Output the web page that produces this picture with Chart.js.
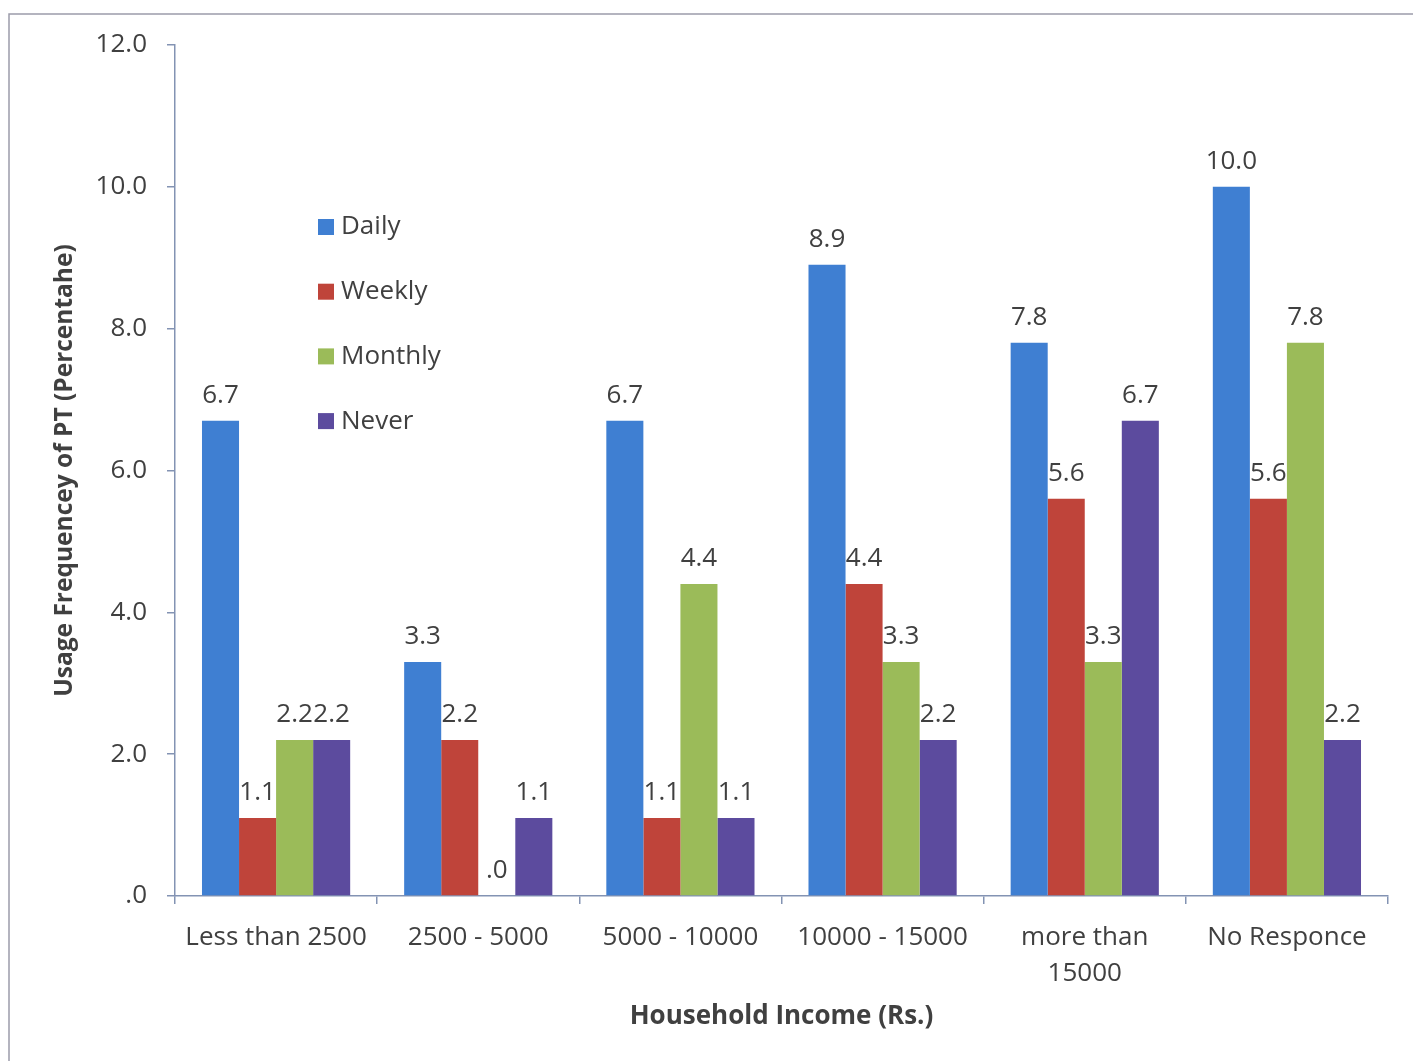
<!DOCTYPE html>
<html>
<head>
<meta charset="utf-8">
<title>Usage Frequency of PT by Household Income</title>
<script src="https://cdn.jsdelivr.net/npm/chart.js@4/dist/chart.umd.min.js"></script>
<style>
  html, body { margin: 0; padding: 0; background: #ffffff; }
  canvas { display: block; }
</style>
</head>
<body>
<canvas id="chart" width="1413" height="1061"></canvas>
<script>
// Household income groups (x axis)
const incomeGroups = [
  'Less than 2500',
  '2500 - 5000',
  '5000 - 10000',
  '10000 - 15000',
  ['more than', '15000'],
  'No Responce'
];

// Usage frequency shares (%) for each income group
const daily   = [6.7, 3.3, 6.7, 8.9, 7.8, 10.0];
const weekly  = [1.1, 2.2, 1.1, 4.4, 5.6, 5.6];
const monthly = [2.2, 0.0, 4.4, 3.3, 3.3, 7.8];
const never   = [2.2, 1.1, 1.1, 2.2, 6.7, 2.2];

const seriesNames  = ['Daily', 'Weekly', 'Monthly', 'Never'];
const seriesColors = ['#3f7fd2', '#bf443a', '#9bbb59', '#5c4b9e'];

// Y axis tick values
const yTicks = [0, 2, 4, 6, 8, 10, 12];

const FONT = '"Open Sans", "DejaVu Sans", sans-serif';
const TEXT = '#404040';
const AXIS = '#8393b3';

function fmt(v) {
  // Values below 1 are written without the leading zero (".0")
  const s = Number(v).toFixed(1);
  return s.startsWith('0') ? s.slice(1) : s;
}

// Thin frame around the whole figure
const framePlugin = {
  id: 'frame',
  beforeDraw(chart) {
    const ctx = chart.ctx;
    ctx.save();
    ctx.strokeStyle = '#9c9cab';
    ctx.lineWidth = 1.5;
    ctx.beginPath();
    ctx.moveTo(9, chart.height);
    ctx.lineTo(9, 14);
    ctx.lineTo(chart.width, 14);
    ctx.stroke();
    ctx.restore();
  }
};

// Value labels above every bar
const valueLabelPlugin = {
  id: 'valueLabels',
  afterDatasetsDraw(chart) {
    const ctx = chart.ctx;
    ctx.save();
    ctx.font = '26px ' + FONT;
    ctx.fillStyle = TEXT;
    ctx.textAlign = 'center';
    ctx.textBaseline = 'middle';
    chart.data.datasets.forEach((ds, di) => {
      const meta = chart.getDatasetMeta(di);
      meta.data.forEach((bar, i) => {
        ctx.fillText(fmt(ds.data[i]), bar.x, bar.y - 25);
      });
    });
    ctx.restore();
  }
};

// Legend placed inside the plot area, stacked vertically
const insideLegendPlugin = {
  id: 'insideLegend',
  afterDraw(chart) {
    const ctx = chart.ctx;
    const area = chart.chartArea;
    const x0 = area.left + 143;
    const y0 = area.top + 182;
    ctx.save();
    ctx.font = '26px ' + FONT;
    ctx.textAlign = 'left';
    ctx.textBaseline = 'middle';
    chart.data.datasets.forEach((ds, i) => {
      const cy = y0 + i * 64.7;
      ctx.fillStyle = ds.backgroundColor;
      ctx.fillRect(x0, cy - 8, 16, 16);
      ctx.fillStyle = TEXT;
      ctx.fillText(ds.label, x0 + 23, cy);
    });
    ctx.restore();
  }
};

const seriesValues = [daily, weekly, monthly, never];

new Chart(document.getElementById('chart'), {
  type: 'bar',
  data: {
    labels: incomeGroups,
    datasets: seriesNames.map((name, i) => ({
      label: name,
      data: seriesValues[i],
      backgroundColor: seriesColors[i],
      borderWidth: 0,
      categoryPercentage: 0.733,
      barPercentage: 1.0
    }))
  },
  options: {
    responsive: false,
    animation: false,
    layout: { padding: { top: 45, right: 25, bottom: 22, left: 40 } },
    plugins: {
      legend: { display: false },
      tooltip: { enabled: false }
    },
    scales: {
      x: {
        afterFit(scale) { scale.height = 143; },
        grid: {
          display: true,
          offset: true,
          drawOnChartArea: false,
          drawTicks: true,
          tickLength: 8,
          color: AXIS,
          lineWidth: 1.5
        },
        border: { display: true, color: AXIS, width: 1.5 },
        ticks: {
          color: TEXT,
          font: { family: FONT, size: 26, lineHeight: 1.4 },
          padding: 15,
          maxRotation: 0,
          autoSkip: false
        },
        title: {
          display: true,
          text: 'Household Income (Rs.)',
          color: TEXT,
          font: { family: FONT, size: 26, weight: 'bold', lineHeight: 1.2 },
          padding: { top: 0, bottom: 7 }
        }
      },
      y: {
        min: 0,
        max: 12,
        afterFit(scale) { scale.width = 135; },
        afterBuildTicks(scale) { scale.ticks = yTicks.map(v => ({ value: v })); },
        grid: {
          display: true,
          drawOnChartArea: false,
          drawTicks: true,
          tickLength: 8,
          color: AXIS,
          lineWidth: 1.5
        },
        border: { display: true, color: AXIS, width: 1.5 },
        ticks: {
          color: TEXT,
          font: { family: FONT, size: 26 },
          padding: 20,
          callback: (v) => fmt(v)
        },
        title: {
          display: true,
          text: 'Usage Frequencey of PT (Percentahe)',
          color: TEXT,
          font: { family: FONT, size: 24.5, weight: 'bold', lineHeight: 1.2 },
          padding: { top: 10, bottom: 0 }
        }
      }
    }
  },
  plugins: [framePlugin, valueLabelPlugin, insideLegendPlugin]
});
</script>
</body>
</html>
